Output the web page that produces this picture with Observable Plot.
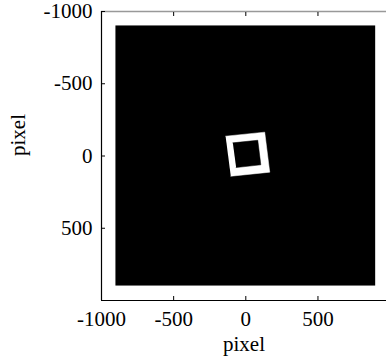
<!DOCTYPE html>
<html>
<head>
<meta charset="utf-8">
<script src="https://cdn.jsdelivr.net/npm/d3@7"></script>
<script src="https://cdn.jsdelivr.net/npm/@observablehq/plot@0.6"></script>
<style>
  html, body { margin: 0; padding: 0; background: #fff; }
  #chart svg { display: block; }
  #chart svg text { font-family: "Liberation Serif", "Times New Roman", serif; }
</style>
</head>
<body>
<div id="chart"></div>
<script>
// Background black square (pixel extents)
const squareX = [-900, 900];
const squareY = [-900, 900];
// Rotated white square ring: outer and inner corners (pixel coords)
const outerX = [-140, 131, 166, -104];
const outerY = [-137, -165, 112, 140];
const innerX = [-90, 83, 104, -67];
const innerY = [-91, -109, 61, 80];
// Axis ticks
const xTicks = [-1000, -500, 0, 500];
const yTicks = [-1000, -500, 0, 500];
const axisLabel = "pixel";

const poly = (xs, ys) => xs.map((x, i) => ({x, y: ys[i]}));
const outer = poly(outerX, outerY);
const inner = poly(innerX, innerY);
const fmt = d => String(d);
const font = '"Liberation Serif", "Times New Roman", serif';

const chart = Plot.plot({
  width: 386,
  height: 360,
  marginLeft: 101,
  marginRight: 0,
  marginTop: 11,
  marginBottom: 60,
  style: {fontFamily: font, fontSize: "21px", background: "#fff", color: "#000"},
  x: {domain: [-1000, 975], ticks: xTicks},
  y: {domain: [-1000, 1000], reverse: true, ticks: yTicks},
  marks: [
    Plot.rect([{x1: squareX[0], x2: squareX[1], y1: squareY[0], y2: squareY[1]}],
      {x1: "x1", x2: "x2", y1: "y1", y2: "y2", fill: "#000"}),
    Plot.line(outer, {x: "x", y: "y", fill: "#fff", stroke: "#fff", strokeWidth: 0.5}),
    Plot.line(inner, {x: "x", y: "y", fill: "#000", stroke: "#000", strokeWidth: 0.5}),
    Plot.ruleY([-1000], {stroke: "#999", strokeWidth: 1.5}),
    Plot.ruleY([1000], {stroke: "#000", strokeWidth: 1.2}),
    Plot.ruleX([-1000], {stroke: "#000", strokeWidth: 1.2}),
    Plot.axisX({anchor: "bottom", ticks: xTicks, tickSize: -4, tickPadding: 15, tickFormat: fmt, label: null, fontSize: 21}),
    Plot.axisX({anchor: "top", ticks: [-500, 0, 500], tickSize: -4, tickFormat: () => "", label: null}),
    Plot.axisY({anchor: "left", ticks: yTicks, tickSize: -4, tickPadding: 13, tickFormat: fmt, label: null, fontSize: 21}),
    Plot.text([axisLabel], {frameAnchor: "bottom", dy: 50, fontSize: 21, fill: "#000"}),
    Plot.text([axisLabel], {frameAnchor: "left", rotate: -90, dx: -83, fontSize: 21, fill: "#000"})
  ]
});
document.getElementById("chart").appendChild(chart);
</script>
</body>
</html>
